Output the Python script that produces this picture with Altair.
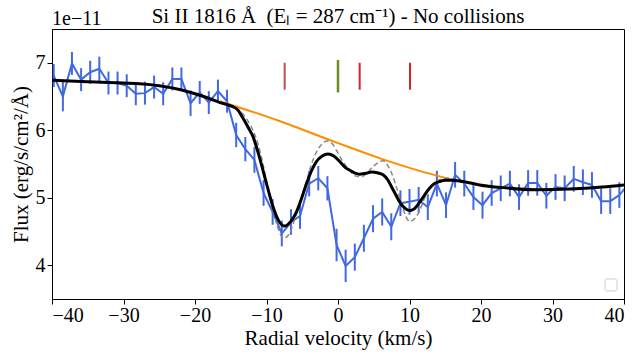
import altair as alt
import pandas as pd

FONT = "Liberation Serif"

# ---- observed spectrum (flux in units of 1e-11) ----
vel = [-39.76, -38.48, -37.21, -35.93, -34.66, -33.38, -32.10, -30.83, -29.55, -28.28,
       -27.00, -25.72, -24.45, -23.17, -21.90, -20.62, -19.34, -18.07, -16.79, -15.52,
       -14.24, -12.96, -11.69, -10.41, -9.14, -7.86, -6.58, -5.31, -4.03, -2.76,
       -1.48, -0.20, 1.07, 2.35, 3.62, 4.90, 6.18, 7.45, 8.73, 10.00,
       11.28, 12.56, 13.83, 15.11, 16.38, 17.66, 18.94, 20.21, 21.49, 22.76,
       24.04, 25.32, 26.59, 27.87, 29.14, 30.42, 31.70, 32.97, 34.25, 35.52,
       36.80, 38.08, 39.35, 40.63]
flux = [6.81, 6.50, 6.99, 6.75, 6.86, 6.91, 6.70, 6.70, 6.66, 6.54,
        6.55, 6.64, 6.54, 6.76, 6.76, 6.40, 6.56, 6.41, 6.58, 6.43,
        5.93, 5.72, 5.56, 5.07, 4.79, 4.47, 4.64, 4.73, 5.21, 5.29,
        5.14, 4.30, 3.99, 4.12, 4.40, 4.69, 4.79, 4.57, 4.92, 4.94,
        4.97, 4.86, 5.21, 4.89, 5.34, 5.21, 5.01, 4.89, 5.07, 5.14,
        5.21, 5.01, 5.22, 5.22, 5.03, 5.16, 5.14, 5.28, 5.23, 5.19,
        4.95, 4.95, 5.04, 5.20]
err = [0.17, 0.22, 0.17, 0.17, 0.17, 0.18, 0.17, 0.17, 0.17, 0.17,
       0.17, 0.17, 0.17, 0.17, 0.17, 0.19, 0.17, 0.17, 0.17, 0.17,
       0.18, 0.18, 0.19, 0.19, 0.19, 0.19, 0.19, 0.19, 0.19, 0.18,
       0.18, 0.24, 0.24, 0.20, 0.20, 0.20, 0.20, 0.20, 0.19, 0.19,
       0.19, 0.19, 0.19, 0.19, 0.19, 0.19, 0.19, 0.20, 0.19, 0.19,
       0.19, 0.19, 0.19, 0.19, 0.19, 0.19, 0.19, 0.19, 0.19, 0.19,
       0.19, 0.19, 0.19, 0.19]

# ---- total model fit (black) ----
fit_v = [-40, -35, -30, -27.7, -25, -22, -20, -18, -16.5, -15, -14, -13.3, -12.5, -11.9,
         -11.2, -10.5, -9.8, -9.1, -8.4, -7.5, -6.6, -5.8, -5.1, -4.4, -3.7, -3.0, -2.2,
         -1.4, -0.6, 0.2, 1.0, 1.6, 2.3, 3.0, 3.8, 4.7, 5.5, 6.3, 7.0, 7.5, 8.1, 8.6,
         9.3, 10.0, 10.7, 11.4, 12.1, 12.8, 13.5, 14.2, 15.0, 16.0, 17.5, 19.8, 23,
         27.7, 32.4, 37, 40]
fit_f = [6.74, 6.72, 6.70, 6.69, 6.66, 6.60, 6.54, 6.47, 6.41, 6.36, 6.30, 6.18, 6.03, 5.91,
         5.68, 5.41, 5.13, 4.87, 4.68, 4.58, 4.65, 4.79, 4.99, 5.21, 5.40, 5.54, 5.62,
         5.65, 5.62, 5.54, 5.45, 5.41, 5.37, 5.35, 5.36, 5.38, 5.37, 5.34, 5.26, 5.16, 5.04, 4.94,
         4.85, 4.81, 4.84, 4.93, 5.04, 5.14, 5.21, 5.24, 5.26, 5.26, 5.24, 5.19, 5.15,
         5.12, 5.13, 5.16, 5.19]

# ---- intrinsic (unconvolved) model (grey dashed) ----
comp_v = [-16.5, -14.5, -13.3, -12.5, -11.9, -11.2, -10.5, -9.8, -9.1, -8.4, -7.6, -6.8,
          -6.0, -5.1, -4.4, -3.7, -3.0, -2.2, -1.5, -0.8, -0.2, 0.6, 1.6, 2.5, 3.2, 4.0,
          4.8, 5.6, 6.3, 7.0, 7.7, 8.3, 8.9, 9.5, 10.0, 10.6, 11.2, 11.8, 12.4, 13.1,
          13.8, 15.2, 16.3]
comp_f = [6.41, 6.33, 6.24, 6.12, 6.00, 5.80, 5.50, 5.15, 4.83, 4.55, 4.40, 4.47,
          4.70, 5.00, 5.25, 5.50, 5.68, 5.80, 5.84, 5.80, 5.70, 5.55, 5.41, 5.32, 5.31, 5.36,
          5.45, 5.52, 5.55, 5.47, 5.31, 5.11, 4.91, 4.72, 4.65, 4.68, 4.76, 4.91, 5.07, 5.18,
          5.24, 5.29, 5.27]

# ---- continuum (orange) ----
cont_v = [-16.5, -8, 0, 6, 12, 16.3]
cont_f = [6.43, 6.13, 5.81, 5.58, 5.38, 5.26]

# ---- component markers ----
mark_v = [-7.46, 0.0, 3.03, 10.07]
mark_top = [7.00, 7.04, 7.00, 7.00]
mark_bot = [6.60, 6.56, 6.60, 6.60]
mark_col = ["#c0504d", "#6b8e23", "#d62728", "#d62728"]
mark_w = [2.0, 2.5, 2.0, 2.0]

TITLE = "Si II 1816 Å\u00a0\u00a0(Eₗ = 287 cm⁻¹) - No collisions"
OFFSET_TEXT = "1e\u221211"

BLUE = "#4169e1"

obs = pd.DataFrame({"v": vel, "f": flux, "e": err})
obs["lo"] = obs["f"] - obs["e"]
obs["hi"] = obs["f"] + obs["e"]
fit = pd.DataFrame({"v": fit_v, "f": fit_f})
comp = pd.DataFrame({"v": comp_v, "f": comp_f})
cont = pd.DataFrame({"v": cont_v, "f": cont_f})
marks = pd.DataFrame({"v": mark_v, "top": mark_top, "bot": mark_bot, "c": mark_col, "w": mark_w})

xscale = alt.Scale(domain=[-40, 40], nice=False, zero=False)
yscale = alt.Scale(domain=[3.5, 7.5], nice=False, zero=False)
xaxis = alt.Axis(values=list(range(-40, 41, 10)), grid=False, tickSize=5, labelPadding=1,
                 titlePadding=2, format="d")
yaxis = alt.Axis(values=[4, 5, 6, 7], grid=False, tickSize=5, labelPadding=2,
                 titlePadding=4, format="d")


def X(field="v"):
    return alt.X(f"{field}:Q", scale=xscale, axis=xaxis, title="Radial velocity (km/s)")


def Y(field="f"):
    return alt.Y(f"{field}:Q", scale=yscale, axis=yaxis, title="Flux (erg/s/cm²/Å)")


bars = alt.Chart(obs).mark_rule(color=BLUE, strokeWidth=2, clip=True).encode(
    x=X(), y=Y("lo"), y2="hi")
line = alt.Chart(obs).mark_line(color=BLUE, strokeWidth=2, clip=True).encode(x=X(), y=Y())
cont_line = alt.Chart(cont).mark_line(color="#ff8c00", strokeWidth=2, clip=True,
                                      interpolate="monotone").encode(x=X(), y=Y())
comp_line = alt.Chart(comp).mark_line(color="#888888", strokeWidth=1.5, strokeDash=[5, 3],
                                      clip=True, interpolate="monotone").encode(x=X(), y=Y())
fit_line = alt.Chart(fit).mark_line(color="black", strokeWidth=3, clip=True,
                                    interpolate="monotone").encode(x=X(), y=Y())
ticks = alt.Chart(marks).mark_rule().encode(
    x=X(), y=Y("top"), y2="bot",
    color=alt.Color("c:N", scale=None),
    strokeWidth=alt.StrokeWidth("w:Q", scale=None))

one = pd.DataFrame({"k": [0]})
legend_box = alt.Chart(one).mark_rect(fill="white", stroke="#cccccc", strokeWidth=1,
                                      cornerRadius=2).encode(
    x=alt.value(553), x2=alt.value(565), y=alt.value(250), y2=alt.value(262))
offset_txt = alt.Chart(one).mark_text(align="left", baseline="alphabetic", fontSize=20,
                                      font=FONT, color="black").encode(
    x=alt.value(0), y=alt.value(-4), text=alt.value(OFFSET_TEXT))
title_txt = alt.Chart(one).mark_text(align="center", baseline="alphabetic", fontSize=21,
                                     font=FONT, color="black").encode(
    x=alt.value(286), y=alt.value(-6), text=alt.value(TITLE))

chart = alt.layer(bars, line, cont_line, comp_line, fit_line, ticks, legend_box,
                  offset_txt, title_txt).properties(
    width=572, height=270,
    autosize=alt.AutoSizeParams(type="none"),
    padding={"left": 52, "top": 29, "right": 12, "bottom": 54},
).configure_view(stroke="black", strokeWidth=1).configure_axis(
    domainColor="black", tickColor="black", labelColor="black", titleColor="black",
    labelFont=FONT, titleFont=FONT, labelFontSize=20, titleFontSize=21,
    titleFontWeight="normal", domainWidth=1, tickWidth=1
)

chart.save("out.html", embed_options={"renderer": "svg", "actions": False})
